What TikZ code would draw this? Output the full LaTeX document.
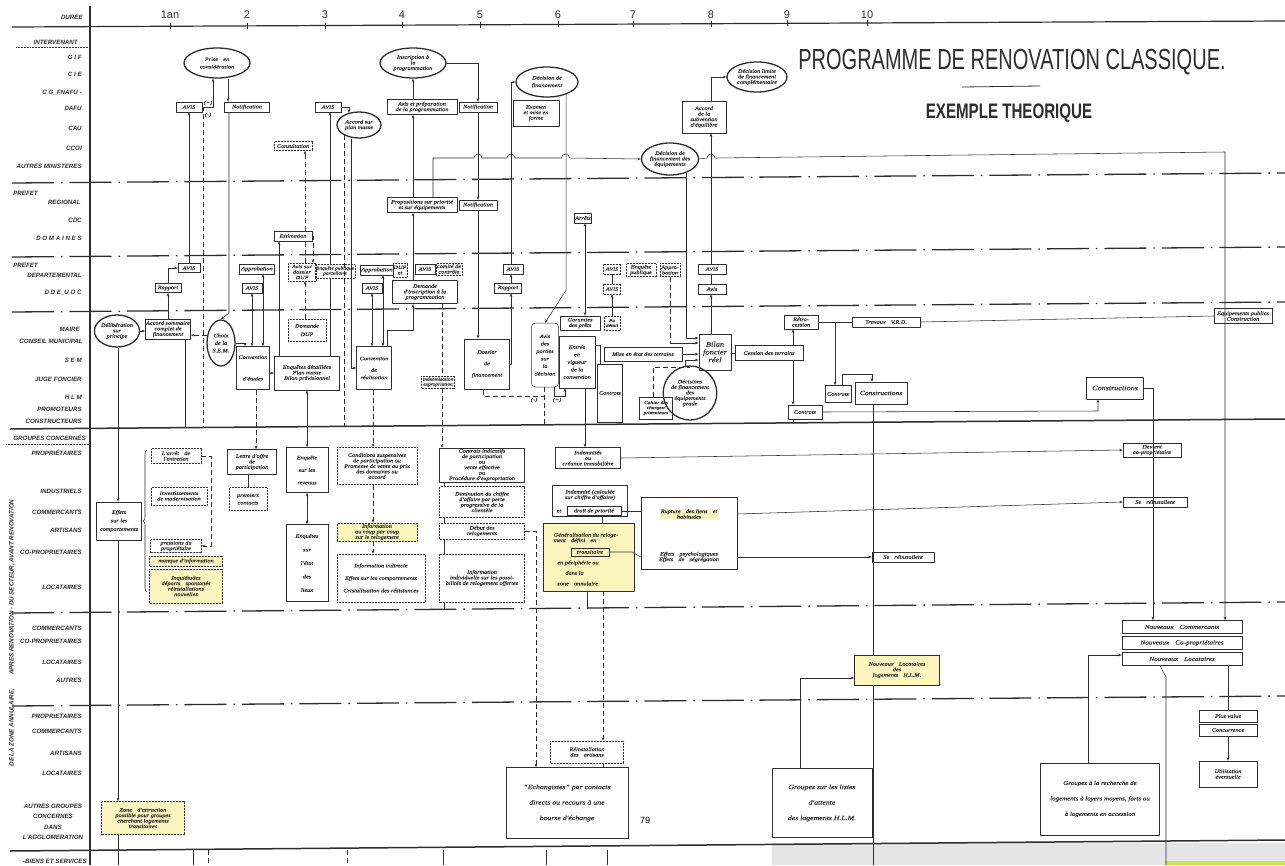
\documentclass[tikz,border=0pt]{standalone}
\usepackage{fontspec}
\setsansfont{Liberation Sans}
\newfontfamily\handfam[FakeStretch=1.2, FakeBold=0.2]{Liberation Serif}
\usepackage{graphicx}
\usepackage{tikz}
\usetikzlibrary{arrows.meta}
\usetikzlibrary{shapes.geometric,positioning}
\usetikzlibrary{decorations.pathreplacing}
\definecolor{ink}{RGB}{45,45,45}
\definecolor{surl}{RGB}{252,246,190}
\newcommand{\handfont}{\handfam\fontsize{5.2}{5.5}\selectfont\itshape}
\newcommand{\smallhand}{\handfam\fontsize{4.5}{5}\selectfont\itshape}
\newcommand{\bighand}{\handfam\fontsize{6.5}{7.5}\selectfont\itshape}
\tikzset{
    wh/.style 2 args={minimum width=#1, minimum height=#2},
    % handwritten boxes
    hand/.style={font=\handfont, align=center, inner sep=0.8pt},
    box/.style={draw, hand, line width=0.5pt},
    dbox/.style={box, densely dotted},
    tbox/.style={box, line width=1pt},
    bubble/.style={ellipse, draw, hand, line width=1.3pt, inner sep=0pt},
    hl/.style={fill=surl},
    % row labels on the left
    lab/.style={anchor=east, inner sep=0pt, font=\fontsize{6.2}{7}\selectfont\sffamily\bfseries\itshape},
    sepline/.style={line width=1.3pt, dash pattern=on 42pt off 7pt on 1.5pt off 7pt},
    arr/.style={-{Stealth[length=3.5pt, width=2.6pt]}},
    rarr/.style={{Stealth[length=3.5pt, width=2.6pt]}-},
    dbl/.style={{Stealth[length=3.5pt, width=2.6pt]}-{Stealth[length=3.5pt, width=2.6pt]}},
    longdash/.style={dash pattern=on 5pt off 3pt},
    darr/.style={arr, longdash}
}
\begin{document}
\begin{tikzpicture}[x=1pt, y=-1pt, color=ink, line width=0.55pt, line join=round]
	\fill[white] (0,0) rectangle (1285,865);
	\useasboundingbox (0,0) rectangle (1285,865);
	\fill[gray!20] (772,843) rectangle (1285,865);
	\fill[yellow!70!green!70] (1165,861) rectangle (1285,865);

	% grid
	\draw[line width=1.2pt] (12,27) -- (1285,21);
	\draw[line width=1.5pt] (90,6) -- (90,865);
	\draw[sepline] (12,183) -- (1285,173);
	\draw[sepline] (12,257) -- (1285,247);
	\draw[sepline] (12,312) -- (1285,302);
	\draw[line width=1.5pt] (10,429) -- (1285,419);
	\draw[sepline] (12,613) -- (1285,602);
	\draw[sepline] (12,706) -- (1285,696);
	\draw[line width=1.5pt] (10,851) -- (1285,840);

	\foreach \x/\tk in {170/1an, 247/2, 325/3, 402/4, 480/5, 558/6, 633/7, 711/8, 787/9, 867/10}{
		\node[font=\fontsize{11}{12}\selectfont\sffamily] (t\tk) at (\x,15) {\tk};
		\draw (\x,{24-0.0047*(\x-12)}) -- (\x,{30-0.0047*(\x-12)});
	}

	% labels
	\node[lab] (duree) at (83,17) {DUREE};
	\node[lab] (interv) at (78,42) {INTERVENANT};
	\draw[densely dotted] (16,47) -- (89,47);
	\foreach \y/\lbl in {57/G I F, 74/C I E, 93/C G\_FNAFU -, 108/DAFU, 128/CAU, 148/CCOI, 166/AUTRES MINISTERES,
		220/CDC, 238/D O M A I N E S, 293/D D E\_U O C, 360/S E M, 379/JUGE FONCIER, 397/H L M, 409/PROMOTEURS,
		421/CONSTRUCTEURS, 453/PROPRIÉTAIRES, 491/INDUSTRIELS, 512/COMMERCANTS, 530/ARTISANS, 552/CO-PROPRIETAIRES,
		587/LOCATAIRES, 628/COMMERCANTS, 641/CO-PROPRIETAIRES, 662/LOCATAIRES, 680/AUTRES, 716/PROPRIETAIRES,
		731/COMMERCANTS, 753/ARTISANS, 773/LOCATAIRES}
		\node[lab] (r\y) at (82,\y) {\lbl};
	\node[lab, anchor=west] (prefA) at (13,193) {PREFET};
	\node[lab] (regA) at (81,202) {REGIONAL};
	\node[lab, anchor=west] (prefB) at (13,265) {PREFET};
	\node[lab] (depB) at (82,275) {DEPARTEMENTAL};
	\node[lab] (maire) at (80,329) {MAIRE};
	\node[lab] (conseil) at (83,341) {CONSEIL MUNICIPAL};
	\node[lab] (groupes) at (86,438) {GROUPES CONCERNÉS};
	\draw[densely dotted] (6,444) -- (89,444);
	\node[lab, anchor=center, align=center] (autgr) at (53,822) {AUTRES GROUPES\\[3.5pt]CONCERNES\\[3.5pt]DANS\\[3.5pt]L'AGGLOMERATION};
	\node[lab] (biens) at (87,861) {-BIENS ET SERVICES};
	\node[lab, anchor=center, rotate=90] (zlab) at (12,633) {DE LA ZONE ANNULAIRE,\hspace{14pt}APRES RENOVATION - DU SECTEUR, AVANT RENOVATION};

	% title
	\node[font=\fontsize{29}{30}\selectfont\sffamily, inner sep=0pt] (titre) at (1012,62) {\scalebox{0.69}[1]{PROGRAMME DE RENOVATION CLASSIQUE.}};
	\draw[line width=0.8pt] (962,87) -- (1040,86);
	\node[font=\fontsize{21}{22}\selectfont\sffamily\bfseries, inner sep=0pt] (sous) at (1009,113) {\scalebox{0.72}[1]{EXEMPLE THEORIQUE}};

	% intervenants
	\node[bubble, wh={66}{30}] (prise) at (217,63) {Prise\quad en\\[2pt]considération};
	\node[box, wh={26}{10}] (avisA) at (189,107) {AVIS};
	\node[box, wh={45}{10}] (notifA) at (247,107) {Notification};
	\node[box, wh={26}{10}] (avisB) at (328,107) {AVIS};
	\node[bubble, wh={44}{26}] (accordpm) at (359,125) {Accord sur\\plan masse};
	\node[dbox, wh={38}{9}] (consult) at (293,146) {Consultation};
	\node[bubble, wh={66}{30}] (inscr) at (413,63) {Inscription à\\la\\programmation};
	\node[box, wh={70}{15}] (avisprep) at (422,107) {Avis et préparation\\de la programmation};
	\node[box, wh={38}{10}] (notifB) at (478,107) {Notification};
	\node[bubble, wh={62}{30}] (decfin) at (547,82) {Décision de\\[2pt]financement};
	\node[box, wh={46}{26}] (examen) at (536,113) {Examen\\et mise en\\forme};
	\node[box, wh={44}{32}] (accsub) at (704,117) {Accord\\de la\\subvention\\d'équilibre};
	\node[bubble, wh={60}{30}] (declim) at (757,77) {Décision limite\\de financement\\complémentaire};
	\node[bubble, wh={56}{32}] (decequ) at (670,159) {Décision de\\financement des\\équipements};
	\node[box, wh={70}{15}] (propos) at (422,205) {Propositions sur priorité\\et sur équipements};
	\node[box, wh={38}{10}] (notifC) at (478,205) {Notification};
	\node[box, wh={17}{10}] (arrets) at (583,218) {Arrêts};
	\node[box, wh={38}{10}] (estim) at (293,236) {Estimation};

	\node[box, wh={22}{9}] (avisC) at (189,268) {AVIS};
	\node[box, wh={26}{9}] (rapA) at (168,288) {Rapport};
	\node[box, wh={35}{10}] (approA) at (257,269) {Approbation};
	\node[box, wh={20}{10}] (avisD) at (252,288) {AVIS};
	\node[dbox, wh={28}{18}] (avisdup) at (302,272) {Avis sur\\dossier\\DUP};
	\node[dbox, wh={37}{14}, font=\smallhand] (enqpub) at (335,271) {Enquête publique\\parcellaire};
	\node[box, wh={31}{10}] (approB) at (377,270) {Approbation};
	\node[dbox, wh={14}{14}] (dupet) at (400,270) {DUP\\et};
	\node[box, wh={20}{10}] (avisE) at (425,269) {AVIS};
	\node[dbox, wh={26}{12}] (comite) at (449,269) {comité de\\contrôle};
	\node[box, wh={20}{10}] (avisF) at (372,288) {AVIS};
	\node[tbox, wh={65}{23}] (demins) at (425,292) {Demande\\d'inscription à la\\programmation};
	\node[box, wh={20}{10}] (avisG) at (513,269) {AVIS};
	\node[box, wh={27}{10}] (rapB) at (508,288) {Rapport};
	\node[dbox, wh={17}{10}] (avisH) at (612,269) {AVIS};
	\node[dbox, wh={30}{13}] (enqpubB) at (641,270) {Enquête\\publique};
	\node[dbox, wh={20}{13}] (approC) at (670,270) {Appro-\\bation};
	\node[dbox, wh={17}{10}] (avisI) at (612,289) {AVIS};
	\node[box, wh={28}{10}] (avisJ) at (712,269) {AVIS};
	\node[box, wh={28}{10}] (avisK) at (712,289) {Avis};

	\node[bubble, wh={44}{32}] (delib) at (117,331) {Délibération\\sur\\principe};
	\node[box, wh={45}{20}] (accsom) at (168,329) {Accord sommaire\\complet de\\financement};
	\node[bubble, wh={28}{46}] (choix) at (221,343) {Choix\\[2pt]de la\\[2pt]S.E.M.};
	\node[dbox, wh={38}{22}] (demdup) at (307,330) {Demande\\[3pt]DUP};
	\node[box, wh={33}{43}] (convet) at (253,368) {Convention\\[16pt]d'études};
	\node[tbox, wh={65}{34}] (enqdet) at (307,373) {Enquêtes détaillées\\Plan masse\\Bilan prévisionnel};
	\node[box, wh={35}{43}] (convre) at (374,368) {Convention\\[6pt]de\\[2pt]réalisation};
	\node[dbox, wh={33}{12}, font=\smallhand] (indexp) at (438,382) {indemnisation\\expropriation};
	\node[tbox, wh={45}{50}] (dosfin) at (487,364) {Dossier\\[6pt]de\\[6pt]financement};
	\node[box, rounded corners=4pt, wh={27}{64}] (avispar) at (545,355) {Avis\\[2pt]des\\[2pt]parties\\[2pt]sur\\[2pt]la\\[2pt]décision};
	\node[box, wh={40}{14}] (garant) at (580,323) {Garanties\\des prêts};
	\node[dbox, wh={16}{14}, font=\smallhand] (pudet) at (612,323) {Pu\\détail};
	\node[box, wh={36}{52}] (entree) at (577,362) {Entrée\\[2pt]en\\[2pt]vigueur\\[2pt]de la\\[2pt]convention};
	\node[box, wh={25}{58}] (contratsA) at (610,393) {Contrats};
	\node[box, wh={78}{14}] (miseetat) at (643,354) {Mise en état des terrains};
	\node[tbox, wh={32}{36}, font=\handfam\fontsize{7}{7.8}\selectfont\itshape] (bilan) at (715,352) {Bilan\\foncier\\réel};
	\node[box, wh={33}{22}, font=\smallhand] (cahier) at (656,408) {Cahier des\\charges/\\promoteurs};
	\node[bubble, wh={48}{54}] (decis) at (690,393) {Décisions\\de financement\\des\\équipements\\grade};
	\node[box, wh={68}{15}] (cession) at (769,353) {Cession des terrains};
	\node[box, wh={34}{14}] (retro) at (801,322) {Rétro-\\cession};
	\node[box, wh={34}{14}] (contratsB) at (805,412) {Contrats};
	\node[box, wh={26}{17}] (contratsC) at (838,394) {Contrats};
	\node[box, wh={68}{10}] (travaux) at (886,322) {Travaux\quad V.R.D.};
	\node[box, wh={52}{22}, font=\handfam\fontsize{6.3}{7}\selectfont\itshape] (constrA) at (881,393) {Constructions};
	\node[box, wh={58}{15}] (equip) at (1243,316) {Equipements publics\\Construction};
	\node[box, wh={57}{22}, font=\handfam\fontsize{6.8}{7.5}\selectfont\itshape] (constrB) at (1115,388) {Constructions};

	\node[hand] (plusA) at (208,103) {(+)};
	\node[hand] (moinsA) at (208,115) {(-)};
	\node[hand] (moinsB) at (534,400) {(-)};
	\node[hand] (plusB) at (557,400) {(+)};

	% groupes concernes
	\node[box, wh={45}{38}] (effets) at (119,521) {Effets\\[3pt]sur les\\[3pt]comportements};
	\node[dbox, wh={50}{15}] (arret) at (176,456) {L'arrêt\quad de\\l'entretien};
	\node[dbox, wh={56}{18}] (invest) at (179,496) {Investissements\\de modernisation};
	\node[dbox, wh={51}{13}] (press) at (176,546) {pressions du\\propriétaire};
	\node[dbox, hl, wh={73}{10}] (manque) at (186,561) {manque d'information};
	\node[dbox, hl, wh={73}{34}] (inquiet) at (186,586) {Inquiétudes\\départs\quad spontanés\\réinstallations\\nouvelles};
	\node[box, wh={49}{25}] (lettre) at (252,462) {Lettre d'offre\\de\\participation};
	\node[dbox, wh={38}{23}] (premiers) at (248,499) {premiers\\[2pt]contacts};
	\node[box, wh={42}{45}] (enqrev) at (307,470) {Enquête\\[7pt]sur les\\[7pt]revenus};
	\node[box, wh={42}{77}] (enqlieux) at (307,563) {Enquêtes\\[8pt]sur\\[8pt]l'état\\[8pt]des\\[8pt]lieux};
	\node[dbox, wh={80}{37}] (condsus) at (377,466) {Conditions suspensives\\de participation ou\\Promesse de vente au prix\\des domaines ou\\accord};
	\node[dbox, hl, wh={80}{18}] (infocoup) at (377,532) {Information\\au coup par coup\\sur le relogement};
	\node[dbox, wh={88}{48}] (infoind) at (381,578) {Information indirecte\\[7pt]Effets sur les comportements\\[7pt]Cristallisation des résistances};
	\node[box, wh={85}{34}] (contind) at (482,465) {Contrats indicatifs\\de participation\\ou\\vente effective\\ou\\Procédure d'expropriation};
	\node[dbox, wh={85}{31}] (dimin) at (482,502) {Diminution du chiffre\\d'affaire par perte\\progressive de la\\clientèle};
	\node[dbox, wh={85}{16}] (debut) at (482,531) {Début des\\relogements};
	\node[dbox, wh={85}{48}] (infoindiv) at (482,578) {Information\\individuelle sur les possi-\\bilités de relogement offertes};
	\node[box, wh={65}{21}] (indemA) at (588,458) {Indemnités\\ou\\créance immobilière};
	\node[box, wh={75}{31}] (indemB) at (590,501) {};
	\node[hand] (indemT) at (590,495) {Indemnité (calculée\\sur chiffre d'affaire)};
	\node[hand] (etT) at (559,511) {et};
	\node[box, wh={54}{9}] (prior) at (594,511) {droit de priorité};
	\node[box, wh={96}{72}] (rupture) at (689,533) {};
	\node[hand, hl] (rupt1) at (689,514) {Rupture\quad des liens\quad et\\habitudes};
	\node[hand] (rupt2) at (689,557) {Effets\quad psychologiques\\Effets\quad de\quad ségrégation};
	\node[box, hl, wh={91}{68}] (general) at (589,557) {};
	\node[hand, align=left] (gen1) at (586,538) {Généralisation du reloge-\\ment\quad défini\quad en};
	\node[box, wh={38}{8}] (transit) at (590,552) {transitoire};
	\node[hand, align=left] (gen2) at (578,573) {en périphérie ou\\[5pt]\hspace*{8pt}dans la\\[5pt]zone\quad annulaire};
	\node[box, wh={58}{14}] (devient) at (1152,450) {Devient\\co-propriétaire};
	\node[box, wh={64}{10}] (reinstA) at (1155,502) {Se\quad réinstallent};
	\node[box, wh={62}{10}] (reinstB) at (903,557) {Se\quad réinstallent};

	\node[dbox, hl, wh={83}{33}] (zone) at (143,818) {Zone\quad d'attraction\\possible pour groupes\\cherchant logements\\transitoires};
	\node[dbox, wh={73}{22}] (reinart) at (587,752) {Réinstallation\\des\quad artisans};
	\node[box, wh={122}{71}, font=\bighand] (echang) at (567,803) {“Echangistes” par contacts\\[8pt]directs ou recours à une\\[8pt]bourse d'échange};
	\node[box, hl, wh={85}{30}] (nlochlm) at (897,670) {Nouveaux\quad Locataires\\des\\logements\quad H.L.M.};
	\node[box, wh={100}{69}, font=\bighand] (grlistes) at (822,803) {Groupes sur les listes\\[8pt]d'attente\\[8pt]des logements H.L.M.};
	\node[box, wh={120}{13}, font=\handfam\fontsize{6}{6.5}\selectfont\itshape] (ncomm) at (1182,627) {Nouveaux\quad Commercants};
	\node[box, wh={120}{13}, font=\handfam\fontsize{6}{6.5}\selectfont\itshape] (ncopro) at (1182,643) {Nouveaux\quad Co-propriétaires};
	\node[box, wh={120}{13}, font=\handfam\fontsize{6}{6.5}\selectfont\itshape] (nloc) at (1182,659) {Nouveaux\quad Locataires};
	\node[box, wh={119}{72}, font=\handfam\fontsize{5.8}{6.5}\selectfont\itshape] (grrech) at (1100,799) {Groupes à la recherche de\\[9pt]logements à loyers moyens, forts ou\\[9pt]à logements en accession};
	\node[box, wh={58}{12}] (plusv) at (1228,716) {Plus value};
	\node[box, wh={58}{12}] (concur) at (1228,730) {Concurrence};
	\node[box, wh={58}{26}] (utilis) at (1228,774) {Utilisation\\éventuelle};
	\node[font=\fontsize{9}{10}\selectfont\sffamily, color=black] (pnum) at (645,820) {79};

	% bends
	\coordinate (kA) at (229,313);
	\coordinate (kB) at (279,0);
	\coordinate (kC) at (305,0);
	\coordinate (kD) at (330,0);
	\coordinate (kE) at (351,0);
	\coordinate (kF) at (345,426.4);
	\coordinate (kG) at (413,330);
	\coordinate (kH) at (433,158);
	\coordinate (kI) at (1225,152);
	\coordinate (kJ) at (511,0);
	\coordinate (kK) at (0,290);
	\coordinate (kL) at (585,0);
	\coordinate (kM) at (0,343);
	\coordinate (kN) at (653,367);
	\coordinate (kO) at (565,396);
	\coordinate (kP) at (544,396);
	\coordinate (kQ) at (544,424.8);
	\coordinate (kR) at (600,345);
	\coordinate (kS) at (711,0);
	\coordinate (kT) at (0,338);
	\coordinate (kU) at (793,422.9);
	\coordinate (kV) at (835,0);
	\coordinate (kW) at (872,374);
	\coordinate (kX) at (1098,411);
	\coordinate (kY) at (1153,388);
	\coordinate (kZ) at (873,865);
	\coordinate (ka) at (118,865);
	\coordinate (kc) at (185,427.6);
	\coordinate (kd) at (203,427.5);
	\coordinate (ke) at (256,0);
	\coordinate (kf) at (373,0);
	\coordinate (kg) at (442,0);
	\coordinate (kh) at (444,610);
	\coordinate (ki) at (536,0);
	\coordinate (kj) at (632,552);
	\coordinate (kk) at (587,608.5);
	\coordinate (kl) at (603,0);
	\coordinate (km) at (211,0);
	\coordinate (kn) at (800,678);
	\coordinate (ko) at (1088,655);
	\coordinate (kp) at (1166,677);
	\coordinate (kq) at (1166,865);
	\coordinate (bA) at (147,592);
	\coordinate (bB) at (147,450);

	% upper connectors
	\draw[arr] (avisA.east) -| ([xshift=-4pt]prise.south);
	\draw[arr] ([xshift=11pt]prise.south) -- ([xshift=11pt]prise.south |- notifA.north);
	\draw[arr] (avisC) -- (avisA);
	\draw[arr] (rapA.north) |- (avisC.west);
	\draw[arr] (accsom) -- (rapA);
	\draw[arr] (delib.east) -- (delib.east -| accsom.west);
	\draw[longdash, arr] (choix.150) -- (choix.150 -| accsom.east);
	\draw[arr] (kA |- notifA.south) -- (kA) -- (choix.north);
	\draw[arr] (choix.east) -| ([xshift=-8pt]convet.north);
	\draw[dbl] (avisD.south) -- (avisD.south |- convet.north);
	\draw[dbl] ([xshift=6pt]approA.south) -- ([xshift=6pt]approA.south |- convet.north);
	\draw[arr] (convet.east |- enqdet) -- (enqdet.west);
	\draw[arr] (kB |- enqdet.north) -- (kB |- estim.south);
	\draw[darr] (estim.east) -| ([xshift=11pt]avisdup.north);
	\draw[darr] (kC |- demdup.north) -- (kC |- avisdup.south);
	\draw[longdash] (kC |- avisdup.north) -- (kC |- estim.south);
	\draw[darr] (kC |- estim.north) -- (kC |- consult.south);
	\draw (kD |- enqdet.north) -- (kD |- enqpub.south);
	\draw[arr] (kD |- enqpub.north) -- (kD |- avisB.south);
	\draw[arr] (avisB.east) -| (accordpm.130);
	\draw[arr] (kE |- accordpm.south) |- (convre.west);
	\draw[longdash] (accordpm.215) -- (accordpm.215 |- kF);
	\draw[dbl] (avisF.south) -- (avisF.south |- convre.north);
	\draw[dbl] ([xshift=6pt]approB.south) -- ([xshift=6pt]approB.south |- convre.north);
	\draw[arr] ([xshift=13pt]convre.north) |- (kG) -- (kG |- demins.south);
	\draw[arr] (kG |- demins.north) -- (kG |- propos.south);
	\draw[arr] (kG |- propos.north) -- (kG |- avisprep.south);
	\draw[arr] (kG |- avisprep.north) -- (kG |- inscr.south);
	\draw[arr] (inscr.east) -| (notifB.north);
	\draw[arr] (notifB) -- (notifC);
	\draw[arr] (notifC) -- (notifC |- dosfin.north);
	\draw[arr] (dosfin.east) -| (kJ |- rapB.south);
	\draw[arr] (kJ |- rapB.north) -- (kJ |- avisG.south);
	\draw[arr] (kJ |- avisG.north) |- (decfin.west);
	\draw[arr] (decfin.-33) -- (decfin.-33 |- kK) -- (avispar.north);
	\draw[arr] (kH |- propos.north) -- (kH) -- (474,158) arc[start angle=180, end angle=0, radius=4pt]
		-- (507,158) arc[start angle=180, end angle=0, radius=4pt]
		-- (561.5,158) arc[start angle=180, end angle=0, radius=4pt] -- (decequ.west);
	\draw[arr] (decequ.east) -- (707,158) arc[start angle=180, end angle=0, radius=4pt] -- (kI) -- (kI |- ncomm.north);
	\draw[dbl] (kL |- garant.north) -- (kL |- arrets.south);
	\draw[arr] (kL |- entree.south) -- (kL |- indemA.north);
	\draw[arr] (pudet) -- (avisI);
	\draw (avisI) -- (avisH);
	\draw[longdash] (approC.south) -- (approC.south |- kM);
	\draw[arr] (approC.south |- kM) -- (kM -| bilan.west);
	\draw[arr] (miseetat.east) -- (miseetat.east -| bilan.west);
	\draw[arr] (decis.100) |- ([yshift=-8pt]bilan.west);
	\draw[longdash] (kN |- cahier.north) -- (kN) -- (kN -| decis.north);
	\draw[arr] ([xshift=9pt]avispar.south) |- (kO) -- (kO |- entree.south);
	\draw[longdash] ([xshift=-4pt]dosfin.south) |- (kP);
	\draw[longdash] (kQ |- avispar.south) -- (kQ);
	\draw (kR -| entree.east) -- (kR) -- (kR |- contratsA.north);
	\draw[arr] (kS |- bilan.north) -- (kS |- avisK.south);
	\draw (kS |- avisK.north) -- (kS |- avisJ.south);
	\draw[arr] (kS |- avisJ.north) -- (kS |- accsub.south);
	\draw[arr] (kS |- accsub.north) |- (declim.west);
	\draw[arr] (decequ.-40) |- (kT -| bilan.west);
	\draw (bilan.east |- cession) -- (cession.west);
	\draw[rarr] (kU |- retro.south) -- (kU |- cession.north);
	\draw[arr] (kU |- cession.south) -- (kU |- contratsB.north);
	\draw (kU |- contratsB.south) -- (kU);
	\draw (retro.east) -- (travaux.west);
	\draw[arr] (kV |- retro.east) -- (kV |- contratsC.north);
	\draw[arr] ([xshift=4pt]contratsC.north) |- (kW) -- (kW |- constrA.north);
	\draw (travaux.east) -- (equip.west);
	\draw[arr] (contratsB.east) -- (kX) -- (kX |- constrB.south);
	\draw[arr] (constrB.east) -- (kY) -- (kY |- ncomm.north);
	\draw (kZ |- constrA.south) -- (kZ |- nlochlm.north);
	\draw (kZ |- nlochlm.south) -- (kZ);

	% lower connectors
	\draw[arr] (ka |- delib.south) -- (ka |- effets.north);
	\draw[arr] (ka |- effets.south) -- (ka |- zone.north);
	\draw (ka |- zone.south) -- (ka);
	\draw (kc |- accsom.south) -- (kc);
	\draw[longdash] (avisA.east) -| (kd);
	\draw[darr] (ke |- convet.south) -- (ke |- lettre.north);
	\draw (premiers |- lettre.south) -- (premiers.north);
	\draw[dbl] (enqdet) -- (enqrev);
	\draw[dbl] (enqrev) -- (enqlieux);
	\draw[darr] (kf |- convre.south) -- (kf |- condsus.north);
	\draw[darr] (kf |- condsus.south) -- (kf |- infocoup.north);
	\draw[darr] (kf |- infocoup.south) -- (kf |- infoind.north);
	\draw[longdash] (kg |- demins.south) -- (kg |- indexp.north);
	\draw[darr] (kg |- indexp.south) -- (kg |- contind.north);
	\draw (kh |- contind.south) -- (kh |- dimin.north);
	\draw (kh |- dimin.south) -- (kh |- debut.north);
	\draw (kh |- debut.south) -- (kh |- infoindiv.north);
	\draw (kh |- infoindiv.south) -- (kh);
	\draw[darr] (debut.east) -| (ki |- echang.north);
	\draw[arr] (indemA.east) -- (devient.west);
	\draw (prior.east) -- (prior.east -| rupture.west);
	\draw ([xshift=12pt]indemB.south) -- ([xshift=12pt]indemB.south |- general.north);
	\draw (transit.east) -- (kj) -- (rupture.west |- rupt2);
	\draw[arr] (rupture.east |- rupt1) -- (reinstA.west);
	\draw[arr] (rupture.east |- rupt2) -- (reinstB.west);
	\draw (kk |- general.south) -- (kk);
	\draw[darr] (kl |- general.south) -- (kl |- reinart.north);
	\draw (kl |- reinart.south) -- (kl |- echang.north);
	\draw[decorate, decoration={brace, amplitude=4pt}] (bA) -- (bB);
	\draw[darr] (arret.east) -| (km |- press.east) -- (press.east);
	\draw[arr] (kn |- grlistes.north) -- (kn) -- (kn -| nlochlm.west);
	\draw[arr] (ko |- grrech.north) -- (ko) -- (ko -| nloc.west);
	\draw ([xshift=-22pt]nloc.south) -- (kp) -- (kq);
	\draw (plusv |- nloc.south) -- (plusv.north);
	\draw[arr] (concur) -- (utilis);
	\foreach \x/\s in {193/solid, 208/longdash, 347/longdash, 443/solid, 546/solid, 607/solid}
		\draw[\s] (\x,850) -- (\x,865);
\end{tikzpicture}
\end{document}
